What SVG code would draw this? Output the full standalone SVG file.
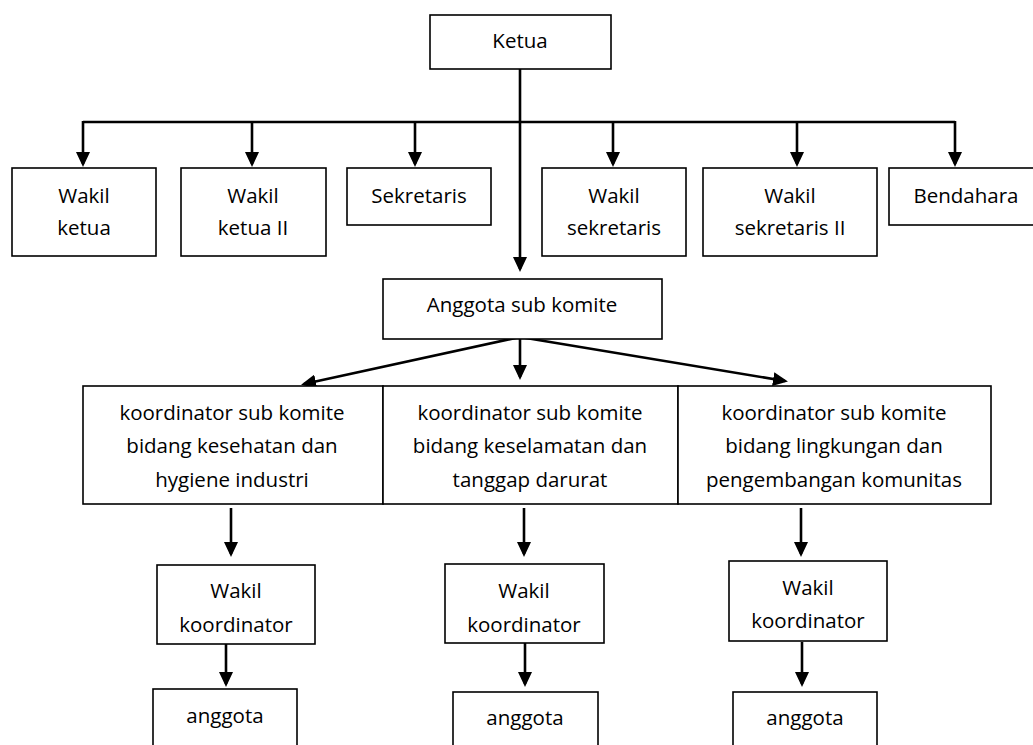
<svg xmlns="http://www.w3.org/2000/svg" width="1033" height="745" viewBox="0 0 1033 745">
  <style>
    .box { fill: #ffffff; stroke: #000000; stroke-width: 1.6; }
    .lbl { font-family: "Open Sans", "Liberation Sans", sans-serif; font-size: 20.5px; fill: #000000; text-anchor: middle; }
    .wire { fill: none; stroke: #000000; stroke-width: 2.6; }
    .arrow { fill: none; stroke: #000000; stroke-width: 2.6; marker-end: url(#head); }
  </style>
  <defs>
    <marker id="head" viewBox="0 0 15 14" refX="12" refY="7" markerWidth="15" markerHeight="14" markerUnits="userSpaceOnUse" orient="auto">
      <path d="M0,0 L15,7 L0,14 z" fill="#000000"/>
    </marker>
  </defs>
  <rect width="1033" height="745" fill="#ffffff"/>

  <g id="connectors">
    <!-- chair down to sub-committee members -->
    <line class="arrow" x1="520" y1="69" x2="520" y2="269"/>
    <!-- bus to the deputies and officers -->
    <line class="wire" x1="83" y1="122" x2="955" y2="122"/>
    <line class="arrow" x1="83" y1="121" x2="83" y2="164"/>
    <line class="arrow" x1="252" y1="121" x2="252" y2="164"/>
    <line class="arrow" x1="415" y1="121" x2="415" y2="164"/>
    <line class="arrow" x1="613" y1="121" x2="613" y2="164"/>
    <line class="arrow" x1="797" y1="121" x2="797" y2="164"/>
    <line class="arrow" x1="955" y1="121" x2="955" y2="164"/>
    <!-- sub-committee members to the three coordinators -->
    <line class="arrow" x1="520" y1="337" x2="304" y2="384"/>
    <line class="arrow" x1="520" y1="337" x2="520" y2="377"/>
    <line class="arrow" x1="520" y1="337" x2="785" y2="381"/>
    <!-- coordinators to deputy coordinators -->
    <line class="arrow" x1="231" y1="508" x2="231" y2="554"/>
    <line class="arrow" x1="524" y1="508" x2="524" y2="554"/>
    <line class="arrow" x1="801" y1="508" x2="801" y2="554"/>
    <!-- deputy coordinators to members -->
    <line class="arrow" x1="226" y1="644" x2="226" y2="684"/>
    <line class="arrow" x1="525" y1="643" x2="525" y2="684"/>
    <line class="arrow" x1="802" y1="642" x2="802" y2="684"/>
  </g>

  <g id="ketua">
    <rect class="box" x="430" y="15" width="181" height="54"/>
    <text class="lbl" x="520" y="48">Ketua</text>
  </g>
  <g id="wakil-ketua">
    <rect class="box" x="12" y="168" width="144" height="88"/>
    <text class="lbl" x="84" y="203">Wakil</text>
    <text class="lbl" x="84" y="235">ketua</text>
  </g>
  <g id="wakil-ketua-2">
    <rect class="box" x="181" y="168" width="145" height="88"/>
    <text class="lbl" x="253" y="203">Wakil</text>
    <text class="lbl" x="253" y="235">ketua II</text>
  </g>
  <g id="sekretaris">
    <rect class="box" x="347" y="168" width="144" height="57"/>
    <text class="lbl" x="419" y="203">Sekretaris</text>
  </g>
  <g id="wakil-sekretaris">
    <rect class="box" x="542" y="168" width="144" height="88"/>
    <text class="lbl" x="614" y="203">Wakil</text>
    <text class="lbl" x="614" y="235">sekretaris</text>
  </g>
  <g id="wakil-sekretaris-2">
    <rect class="box" x="703" y="168" width="174" height="88"/>
    <text class="lbl" x="790" y="203">Wakil</text>
    <text class="lbl" x="790" y="235">sekretaris II</text>
  </g>
  <g id="bendahara">
    <rect class="box" x="889" y="168" width="150" height="57"/>
    <text class="lbl" x="966" y="203">Bendahara</text>
  </g>

  <g id="anggota-sub-komite">
    <rect class="box" x="383" y="279" width="279" height="60"/>
    <text class="lbl" x="522" y="312">Anggota sub komite</text>
  </g>

  <g id="koordinator-kesehatan">
    <rect class="box" x="83" y="386" width="300" height="118"/>
    <text class="lbl" x="232" y="420">koordinator sub komite</text>
    <text class="lbl" x="232" y="453">bidang kesehatan dan</text>
    <text class="lbl" x="232" y="487">hygiene industri</text>
  </g>
  <g id="koordinator-keselamatan">
    <rect class="box" x="383" y="386" width="295" height="118"/>
    <text class="lbl" x="530" y="420">koordinator sub komite</text>
    <text class="lbl" x="530" y="453">bidang keselamatan dan</text>
    <text class="lbl" x="530" y="487">tanggap darurat</text>
  </g>
  <g id="koordinator-lingkungan">
    <rect class="box" x="678" y="386" width="313" height="118"/>
    <text class="lbl" x="834" y="420">koordinator sub komite</text>
    <text class="lbl" x="834" y="453">bidang lingkungan dan</text>
    <text class="lbl" x="834" y="487">pengembangan komunitas</text>
  </g>

  <g id="wakil-koordinator-1">
    <rect class="box" x="157" y="565" width="158" height="79"/>
    <text class="lbl" x="236" y="598">Wakil</text>
    <text class="lbl" x="236" y="632">koordinator</text>
  </g>
  <g id="wakil-koordinator-2">
    <rect class="box" x="445" y="564" width="159" height="79"/>
    <text class="lbl" x="524" y="598">Wakil</text>
    <text class="lbl" x="524" y="632">koordinator</text>
  </g>
  <g id="wakil-koordinator-3">
    <rect class="box" x="729" y="561" width="158" height="80"/>
    <text class="lbl" x="808" y="595">Wakil</text>
    <text class="lbl" x="808" y="628">koordinator</text>
  </g>

  <g id="anggota-1">
    <rect class="box" x="153" y="689" width="144" height="70"/>
    <text class="lbl" x="225" y="723">anggota</text>
  </g>
  <g id="anggota-2">
    <rect class="box" x="453" y="692" width="145" height="70"/>
    <text class="lbl" x="525" y="725">anggota</text>
  </g>
  <g id="anggota-3">
    <rect class="box" x="733" y="692" width="144" height="70"/>
    <text class="lbl" x="805" y="725">anggota</text>
  </g>
</svg>
